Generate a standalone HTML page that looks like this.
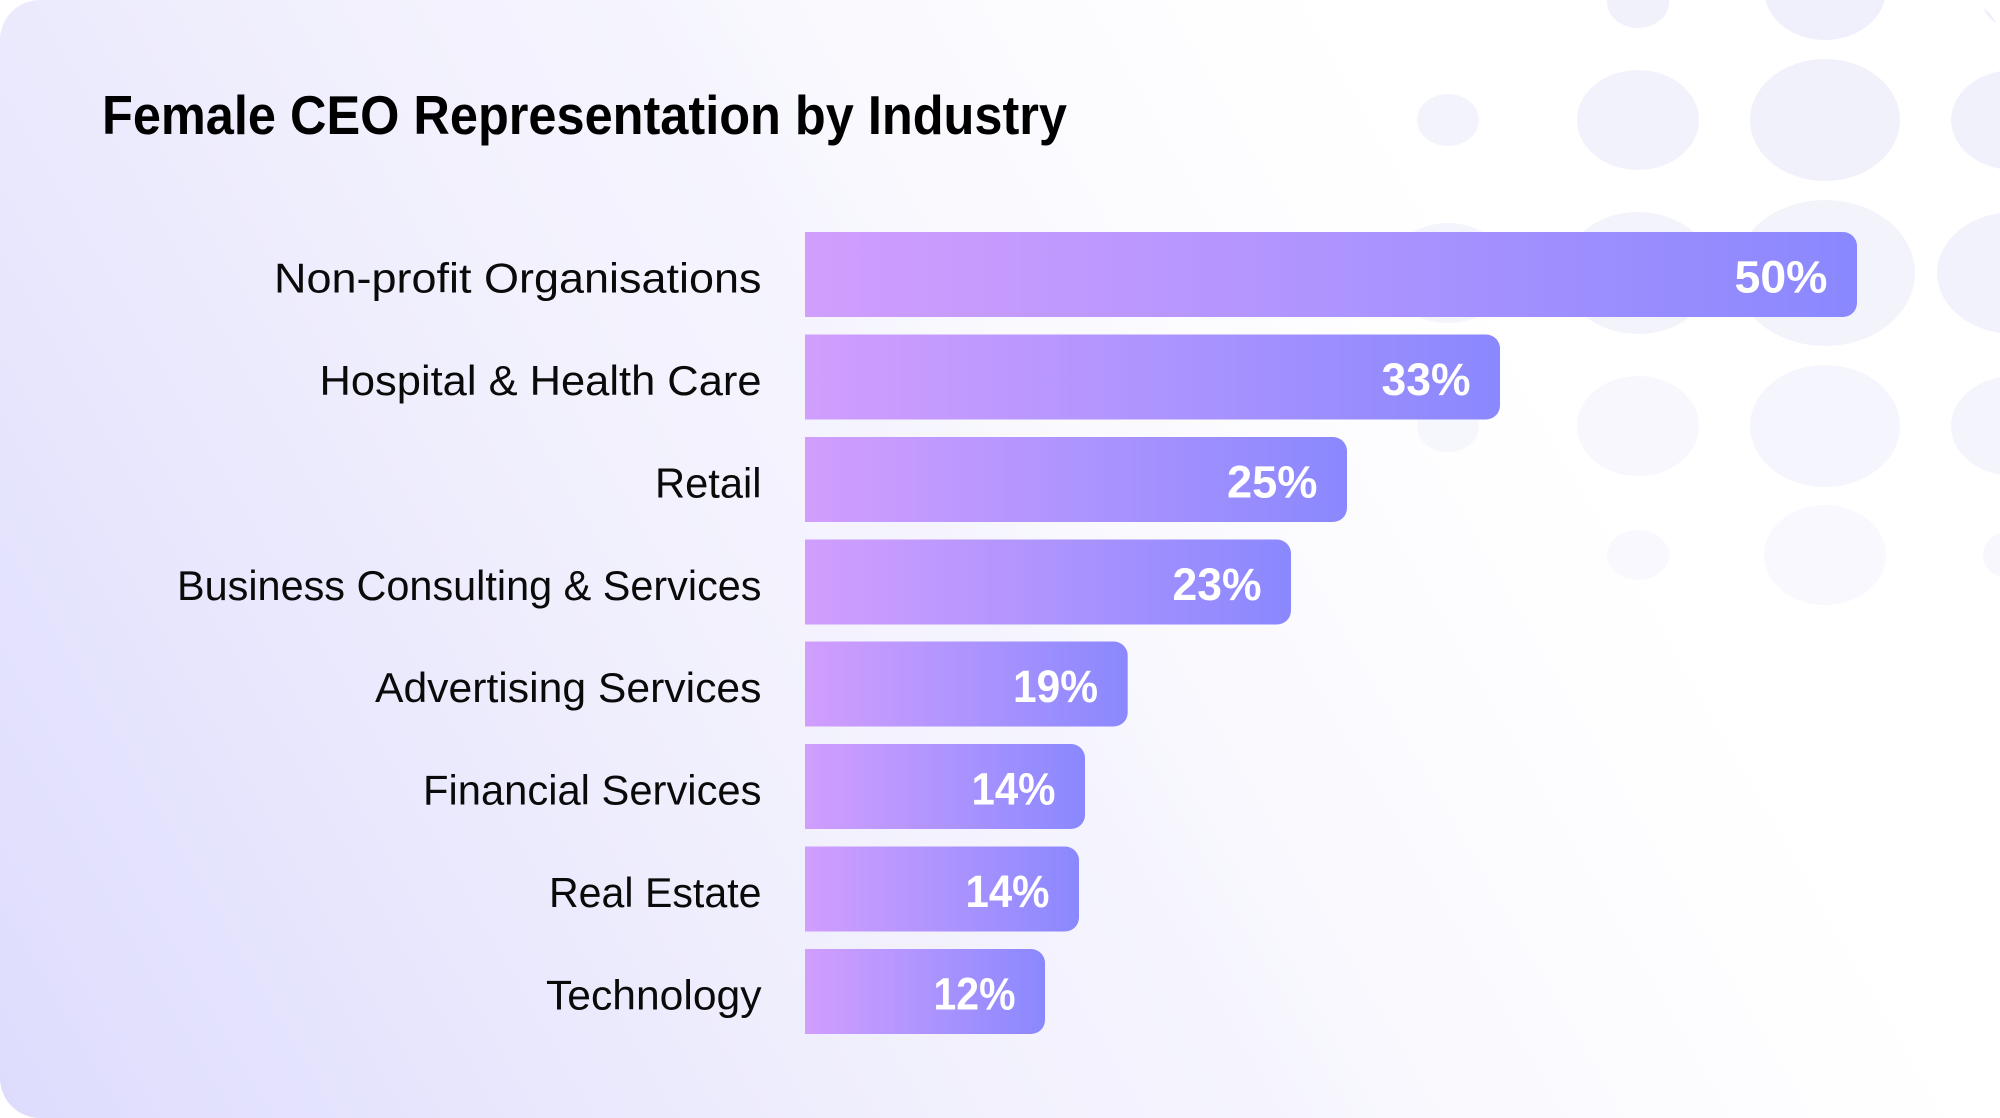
<!DOCTYPE html>
<html>
<head>
<meta charset="utf-8">
<style>
  html, body { margin: 0; padding: 0; background: #ffffff; }
  body { width: 2000px; height: 1118px; overflow: hidden; }
  svg { display: block; }
  .lbl { font-family: "Liberation Sans", sans-serif; font-size: 42px; fill: #0a0a0a; }
  .ttl { font-family: "Liberation Sans", sans-serif; font-size: 55px; font-weight: bold; fill: #000; }
  .pct { font-family: "Liberation Sans", sans-serif; font-size: 45px; font-weight: bold; fill: #ffffff; }
</style>
</head>
<body>
<svg width="2000" height="1118" viewBox="0 0 2000 1118" xmlns="http://www.w3.org/2000/svg">
  <defs>
    <linearGradient id="bg" gradientUnits="userSpaceOnUse" x1="0" y1="1118" x2="1984" y2="-27">
      <stop offset="0" stop-color="#dedcfd"/>
      <stop offset="0.25" stop-color="#ebeafd"/>
      <stop offset="0.3" stop-color="#eeedfd"/>
      <stop offset="0.38" stop-color="#f2f1fd"/>
      <stop offset="0.48" stop-color="#f5f4fe"/>
      <stop offset="0.53" stop-color="#f8f8fe"/>
      <stop offset="0.63" stop-color="#fcfcff"/>
      <stop offset="0.75" stop-color="#ffffff"/>
      <stop offset="1" stop-color="#ffffff"/>
    </linearGradient>
    <linearGradient id="bar" x1="0" y1="0" x2="1" y2="0">
      <stop offset="0" stop-color="#d19efd"/>
      <stop offset="0.5" stop-color="#ae94fe"/>
      <stop offset="1" stop-color="#8a88fe"/>
    </linearGradient>
    <clipPath id="card">
      <rect x="0" y="0" width="2000" height="1118" rx="40" ry="40"/>
    </clipPath>
  </defs>

  <rect x="0" y="0" width="2000" height="1118" rx="40" ry="40" fill="url(#bg)"/>

  <g clip-path="url(#card)">
    <!-- row 0 -->
    <ellipse cx="1638" cy="2" rx="31" ry="26" fill="#f1f1fc"/>
    <ellipse cx="1825" cy="-10" rx="61" ry="50" fill="#f0f0fc"/>
    <ellipse cx="2014" cy="2" rx="31" ry="26" fill="#f0f0fc"/>
    <!-- row 1 -->
    <ellipse cx="1448" cy="120" rx="31" ry="26" fill="#f3f3fc"/>
    <ellipse cx="1638" cy="120" rx="61" ry="50" fill="#f2f2fc"/>
    <ellipse cx="1825" cy="120" rx="75" ry="61" fill="#f1f1fc"/>
    <ellipse cx="2014" cy="120" rx="63" ry="50" fill="#f1f1fc"/>
    <!-- row 2 -->
    <ellipse cx="1448" cy="273" rx="61" ry="50" fill="#f4f4fd"/>
    <ellipse cx="1638" cy="273" rx="75" ry="61" fill="#f3f3fc"/>
    <ellipse cx="1825" cy="273" rx="90" ry="73" fill="#f3f3fc"/>
    <ellipse cx="2014" cy="273" rx="77" ry="61" fill="#f2f2fc"/>
    <!-- row 3 -->
    <ellipse cx="1448" cy="426" rx="31" ry="26" fill="#f6f6fd"/>
    <ellipse cx="1638" cy="426" rx="61" ry="50" fill="#f7f7fd"/>
    <ellipse cx="1825" cy="426" rx="75" ry="61" fill="#f5f5fd"/>
    <ellipse cx="2014" cy="426" rx="63" ry="50" fill="#f4f4fd"/>
    <!-- row 4 -->
    <ellipse cx="1638" cy="555" rx="31" ry="25" fill="#f8f8fe"/>
    <ellipse cx="1825" cy="555" rx="61" ry="50" fill="#f8f8fe"/>
    <ellipse cx="2014" cy="555" rx="31" ry="25" fill="#f7f7fd"/>
  </g>

  <text class="ttl" x="102" y="134" textLength="965" lengthAdjust="spacingAndGlyphs">Female CEO Representation by Industry</text>

  <!-- bars -->
  <path fill="url(#bar)" d="M805,232 H1843 A14,14 0 0 1 1857,246 V303 A14,14 0 0 1 1843,317 H805 Z"/>
  <path fill="url(#bar)" d="M805,334.5 H1486 A14,14 0 0 1 1500,348.5 V405.5 A14,14 0 0 1 1486,419.5 H805 Z"/>
  <path fill="url(#bar)" d="M805,437 H1333 A14,14 0 0 1 1347,451 V508 A14,14 0 0 1 1333,522 H805 Z"/>
  <path fill="url(#bar)" d="M805,539.5 H1277 A14,14 0 0 1 1291,553.5 V610.5 A14,14 0 0 1 1277,624.5 H805 Z"/>
  <path fill="url(#bar)" d="M805,641.5 H1113.7 A14,14 0 0 1 1127.7,655.5 V712.5 A14,14 0 0 1 1113.7,726.5 H805 Z"/>
  <path fill="url(#bar)" d="M805,744 H1071 A14,14 0 0 1 1085,758 V815 A14,14 0 0 1 1071,829 H805 Z"/>
  <path fill="url(#bar)" d="M805,846.5 H1065 A14,14 0 0 1 1079,860.5 V917.5 A14,14 0 0 1 1065,931.5 H805 Z"/>
  <path fill="url(#bar)" d="M805,949 H1031 A14,14 0 0 1 1045,963 V1020 A14,14 0 0 1 1031,1034 H805 Z"/>

  <!-- category labels -->
  <text class="lbl" x="274" y="292.5" textLength="487.5" lengthAdjust="spacingAndGlyphs">Non-profit Organisations</text>
  <text class="lbl" x="319.5" y="395" textLength="442" lengthAdjust="spacingAndGlyphs">Hospital &amp; Health Care</text>
  <text class="lbl" x="655" y="497.5" textLength="106.5" lengthAdjust="spacingAndGlyphs">Retail</text>
  <text class="lbl" x="177" y="600" textLength="584.5" lengthAdjust="spacingAndGlyphs">Business Consulting &amp; Services</text>
  <text class="lbl" x="375" y="702" textLength="386.5" lengthAdjust="spacingAndGlyphs">Advertising Services</text>
  <text class="lbl" x="423" y="804.5" textLength="338.5" lengthAdjust="spacingAndGlyphs">Financial Services</text>
  <text class="lbl" x="549" y="907" textLength="212.5" lengthAdjust="spacingAndGlyphs">Real Estate</text>
  <text class="lbl" x="546" y="1009.5" textLength="215.5" lengthAdjust="spacingAndGlyphs">Technology</text>

  <!-- value labels -->
  <text class="pct" x="1734.5" y="292.5" textLength="93" lengthAdjust="spacingAndGlyphs">50%</text>
  <text class="pct" x="1381.5" y="395" textLength="89" lengthAdjust="spacingAndGlyphs">33%</text>
  <text class="pct" x="1227" y="497.5" textLength="90.5" lengthAdjust="spacingAndGlyphs">25%</text>
  <text class="pct" x="1172.5" y="600" textLength="89" lengthAdjust="spacingAndGlyphs">23%</text>
  <text class="pct" x="1013" y="702" textLength="85" lengthAdjust="spacingAndGlyphs">19%</text>
  <text class="pct" x="971.5" y="804.5" textLength="84" lengthAdjust="spacingAndGlyphs">14%</text>
  <text class="pct" x="965.5" y="907" textLength="84" lengthAdjust="spacingAndGlyphs">14%</text>
  <text class="pct" x="933.5" y="1009.5" textLength="82" lengthAdjust="spacingAndGlyphs">12%</text>
</svg>
</body>
</html>
